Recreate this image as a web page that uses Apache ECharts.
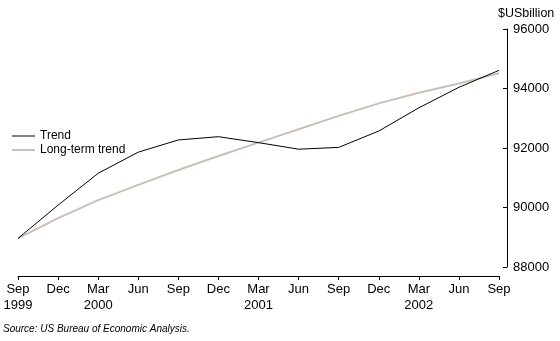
<!DOCTYPE html>
<html><head><meta charset="utf-8">
<script src="https://cdn.jsdelivr.net/npm/echarts@6/dist/echarts.min.js"></script>
<style>html,body{margin:0;padding:0;background:#fff}#c{width:560px;height:341px}</style>
</head><body><div id="c"></div>
<script>
const categories = ["Sep\n1999","Dec","Mar\n2000","Jun","Sep","Dec","Mar\n2001","Jun","Sep","Dec","Mar\n2002","Jun","Sep"];
const trend = [88960, 90080, 91150, 91860, 92270, 92380, 92180, 91960, 92020, 92570, 93350, 94040, 94610];
const longTermTrend = [88960, 89640, 90250, 90760, 91260, 91730, 92180, 92630, 93080, 93500, 93860, 94170, 94510];
const yMin = 88000, yMax = 96000, yStep = 2000;
const unitLabel = "$USbillion";
const sourceText = "Source: US Bureau of Economic Analysis.";

const chart = echarts.init(document.getElementById('c'), null, {renderer: 'canvas'});
const font = 'Arial, "Liberation Sans", sans-serif';
const legendText = {fontFamily: font, fontSize: 12, color: '#000', padding: [0,0,0,0]};
chart.setOption({
  animation: false,
  grid: {left: 18, right: 61, top: 29, bottom: 74, containLabel: false},
  legend: [
    {orient: 'vertical', left: 7, top: 125, itemWidth: 23, itemHeight: 1, icon: 'rect',
     textStyle: legendText, data: ['Trend']},
    {orient: 'vertical', left: 7, top: 139, itemWidth: 23, itemHeight: 2, icon: 'rect',
     textStyle: legendText, data: ['Long-term trend']}
  ],
  xAxis: {
    type: 'category', data: categories, boundaryGap: false, offset: 9,
    axisLine: {lineStyle: {color: '#000', width: 1}},
    axisTick: {length: 4, lineStyle: {color: '#000'}, alignWithLabel: true},
    axisLabel: {fontFamily: font, fontSize: 13, color: '#000', margin: 5, lineHeight: 16, interval: 0},
    splitLine: {show: false}
  },
  yAxis: {
    type: 'value', position: 'right', min: yMin, max: yMax, interval: yStep, offset: 8,
    axisLine: {show: true, lineStyle: {color: '#000', width: 1}},
    axisTick: {show: true, inside: true, length: 4, lineStyle: {color: '#000'}},
    axisLabel: {fontFamily: font, fontSize: 13, color: '#000', margin: 6, formatter: v => String(v)},
    splitLine: {show: false}
  },
  graphic: [
    {type: 'text', left: 498, top: 7, style: {text: unitLabel, font: '12.5px ' + font, fill: '#000'}},
    {type: 'text', left: 3, top: 324, style: {text: sourceText, font: 'italic 10px ' + font, fill: '#000'}}
  ],
  series: [
    {name: 'Long-term trend', type: 'line', data: longTermTrend, showSymbol: false, symbol: 'none',
     lineStyle: {color: '#cbbfb6', width: 2}, itemStyle: {color: '#cbbfb6'}, z: 2},
    {name: 'Trend', type: 'line', data: trend, showSymbol: false, symbol: 'none',
     lineStyle: {color: '#000', width: 1}, itemStyle: {color: '#000'}, z: 3}
  ]
});
</script></body></html>
